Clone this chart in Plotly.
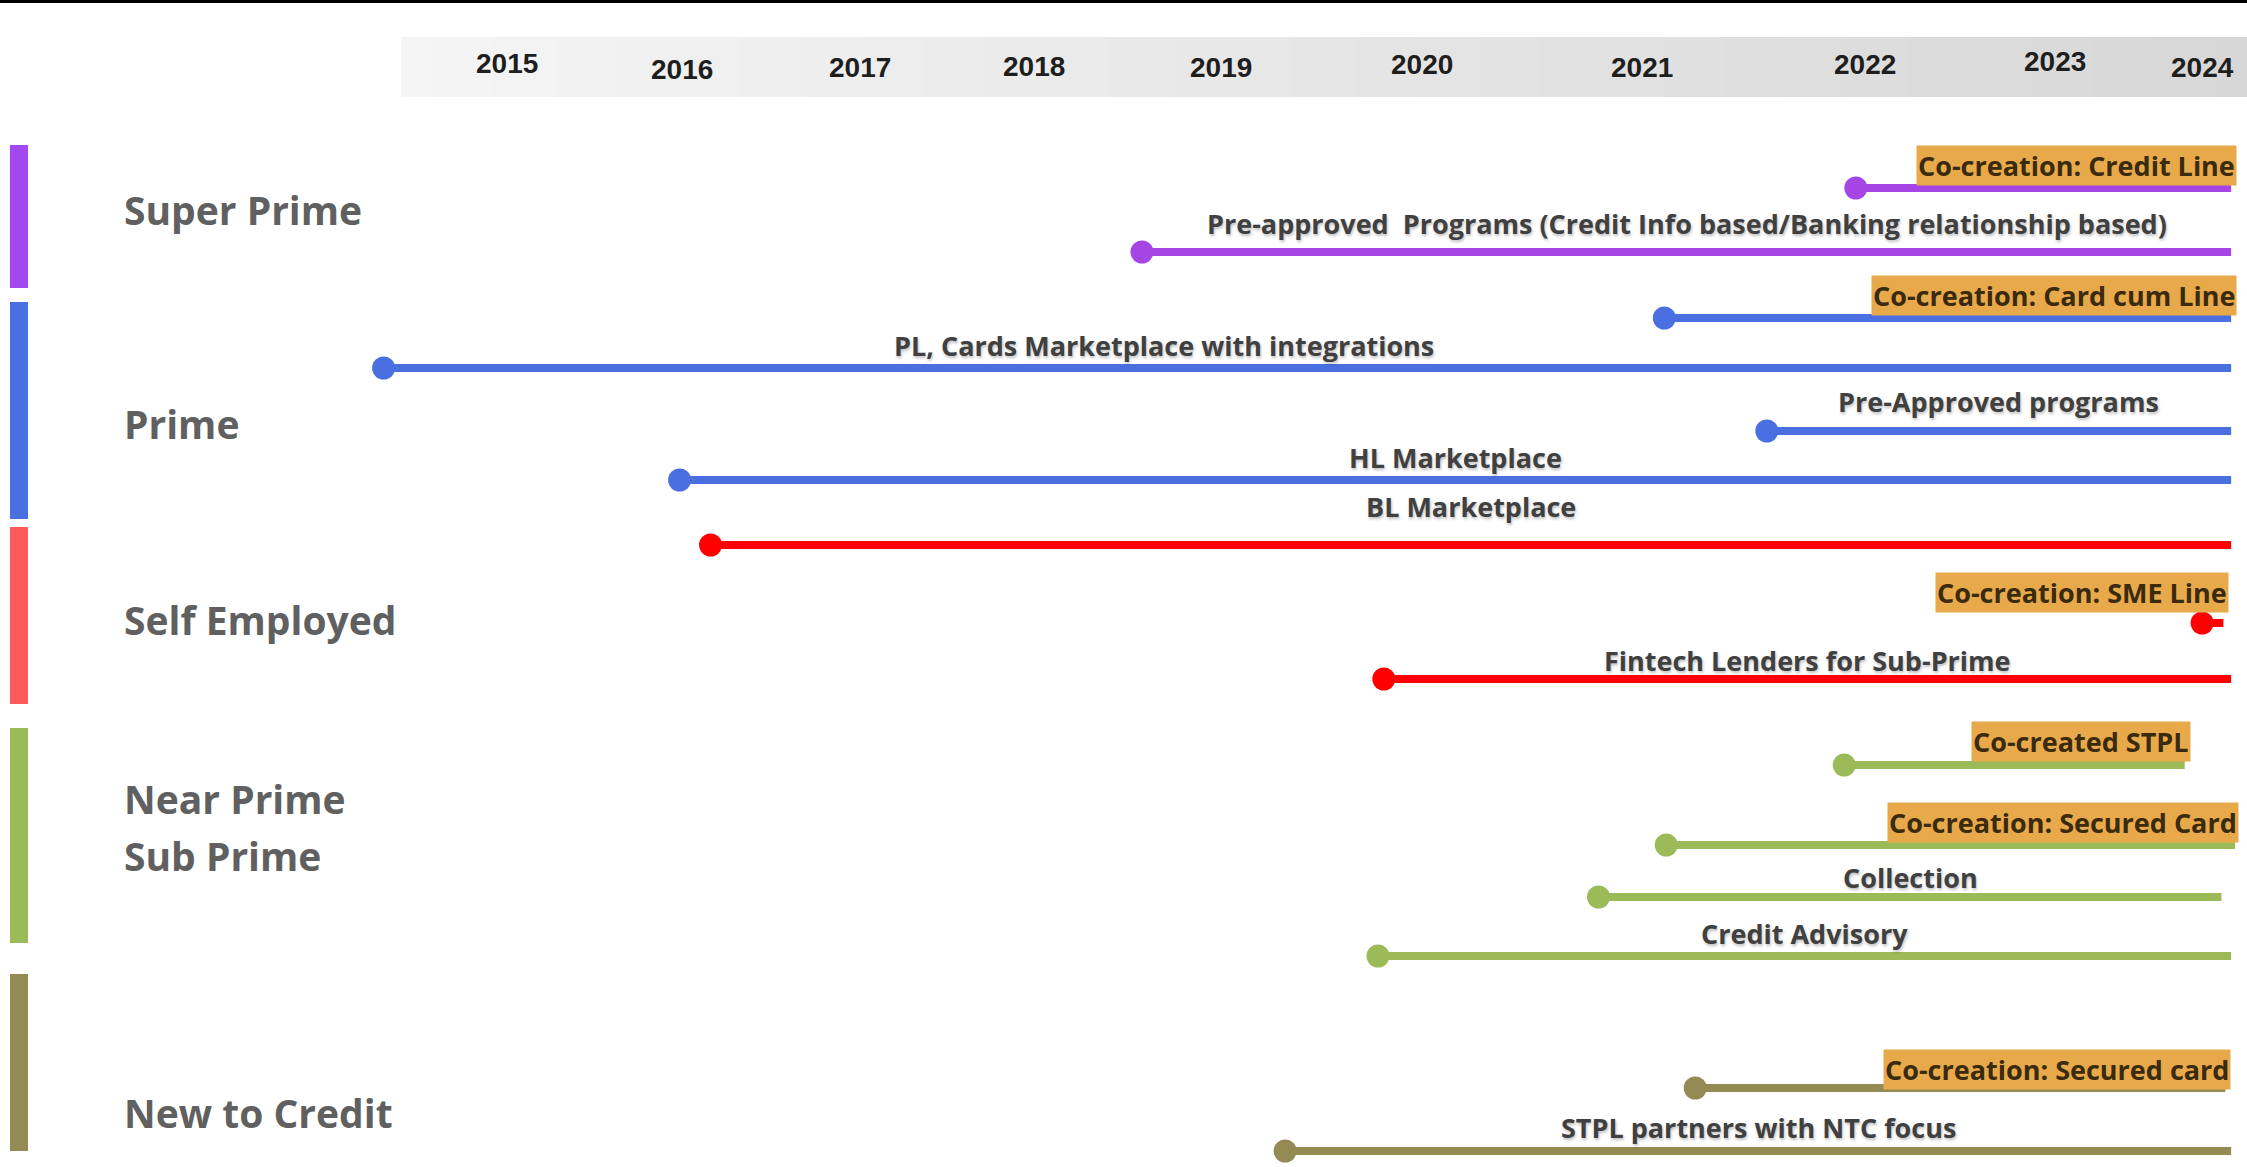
import plotly.graph_objects as go

# ---------------- data ----------------
years = [2015, 2016, 2017, 2018, 2019, 2020, 2021, 2022, 2023, 2024]

segments = ["Super Prime", "Prime", "Self Employed", "Near Prime<br>Sub Prime", "New to Credit"]

initiatives = [
    "Co-creation: Credit Line",
    "Pre-approved  Programs (Credit Info based/Banking relationship based)",
    "Co-creation: Card cum Line",
    "PL, Cards Marketplace with integrations",
    "Pre-Approved programs",
    "HL Marketplace",
    "BL Marketplace",
    "Co-creation: SME Line",
    "Fintech Lenders for Sub-Prime",
    "Co-created STPL",
    "Co-creation: Secured Card",
    "Collection",
    "Credit Advisory",
    "Co-creation: Secured card",
    "STPL partners with NTC focus",
]
initiative_segment = [0, 0, 1, 1, 1, 1, 2, 2, 2, 3, 3, 3, 3, 4, 4]
start_year = [2022.12, 2018.43, 2021.13, 2014.51, 2021.66, 2016.04, 2016.20, 2023.91,
              2019.68, 2022.06, 2021.14, 2020.79, 2019.65, 2021.29, 2019.17]
end_year = [2024.06, 2024.06, 2024.06, 2024.06, 2024.06, 2024.06, 2024.06, 2024.02,
            2024.06, 2023.82, 2024.08, 2024.01, 2024.06, 2024.03, 2024.06]
co_created = [True, False, True, False, False, False, False, True,
              False, True, True, False, False, True, False]

# ---------------- layout / style ----------------
W, H = 2247, 1167
bar_colors = ["#A347F0", "#4A6FE0", "#FF5A5A", "#9BBB59", "#948A54"]
line_colors = ["#A545E6", "#4A6FE0", "#FF0000", "#9BBB59", "#948A54"]

# lane of each initiative, in pixels from the top (y axis runs 0..H reversed)
lane_y = [188, 252, 318, 368, 431, 480, 545, 623, 679, 765, 845, 897, 956, 1088, 1151]
label_lift = [23, 29, 23, 23, 30, 23, 39, 31, 19, 24, 23, 20, 23, 19, 24]
label_xshift = [6, 0, 6, -143, 0, 0, 0, 6, 0, 6, 4, 0, 0, 6, 0]

segment_bands = [(145, 288), (302, 519), (527, 704), (728, 943), (974, 1151)]
segment_label_y = [209, 423, 619, 827, 1112]
segment_line_gap = 57

year_label_y = 67
year_xshift = [29, 10, -5, -25, -31, -24, 3, 32, 29, -17]
year_yshift = [4, -2, 0, 1, 0, 3, 0, 3, 6, 0]

font_main = "'Open Sans', Lato, sans-serif"
font_year = "'Liberation Sans Narrow', 'Arial Narrow', 'Liberation Sans', Arial, sans-serif"

fig = go.Figure()

# timelines
for i, name in enumerate(initiatives):
    col = line_colors[initiative_segment[i]]
    fig.add_trace(go.Scatter(
        x=[start_year[i], end_year[i]], y=[lane_y[i], lane_y[i]],
        mode="lines", line=dict(color=col, width=8),
        showlegend=False, hoverinfo="skip",
    ))
    fig.add_trace(go.Scatter(
        x=[start_year[i]], y=[lane_y[i]],
        mode="markers", marker=dict(size=23, color=col, opacity=1, line=dict(width=0)),
        showlegend=False, hoverinfo="skip",
    ))

annotations = []

# initiative labels
for i, name in enumerate(initiatives):
    if co_created[i]:
        annotations.append(dict(
            x=end_year[i], y=lane_y[i], xref="x", yref="y",
            text=name, showarrow=False, xanchor="right", yanchor="middle",
            xshift=label_xshift[i], yshift=label_lift[i],
            bgcolor="#E8A94A", borderpad=1,
            font=dict(family=font_main, size=27, color="#3A2A0E", weight=700),
        ))
    else:
        annotations.append(dict(
            x=(start_year[i] + end_year[i]) / 2, y=lane_y[i], xref="x", yref="y",
            text=name, showarrow=False, xanchor="center", yanchor="middle",
            xshift=label_xshift[i], yshift=label_lift[i],
            font=dict(family=font_main, size=27, color="#404040", weight=700,
                      shadow="1px 2px 3px rgba(0,0,0,0.25)"),
        ))

# segment labels (multi-line names placed line by line)
for k, seg in enumerate(segments):
    parts = seg.split("<br>")
    top = segment_label_y[k] - segment_line_gap * (len(parts) - 1) / 2
    for p, part in enumerate(parts):
        annotations.append(dict(
            x=122 / W, y=top + p * segment_line_gap, xref="paper", yref="y",
            text=part, showarrow=False, xanchor="left", yanchor="middle", align="left",
            font=dict(family=font_main, size=39, color="#606060", weight=700),
        ))

# year labels in the header band
for j, yr in enumerate(years):
    annotations.append(dict(
        x=yr, y=year_label_y, xref="x", yref="y",
        text=str(yr), showarrow=False, xanchor="center", yanchor="middle",
        xshift=year_xshift[j], yshift=year_yshift[j],
        font=dict(family=font_year, size=28, color="#1E1E1E", weight=700),
    ))

shapes = []
# top rule
shapes.append(dict(type="rect", xref="paper", yref="paper", x0=0, x1=1, y0=1 - 3 / H, y1=1,
                   fillcolor="black", line=dict(width=0), layer="below"))
# header band with horizontal gradient (drawn as thin strips)
n_strips = 60
x_start = 401 / W
for s in range(n_strips):
    t = s / (n_strips - 1)
    v = int(round(245 - (245 - 215) * t))
    shapes.append(dict(
        type="rect", xref="paper", yref="y",
        x0=x_start + (1 - x_start) * s / n_strips,
        x1=x_start + (1 - x_start) * (s + 1) / n_strips + 0.0005,
        y0=37, y1=97, fillcolor=f"rgb({v},{v},{v})", line=dict(width=0), layer="below",
    ))
# colored segment bars on the left
for k, (y0, y1) in enumerate(segment_bands):
    shapes.append(dict(type="rect", xref="paper", yref="y", x0=10 / W, x1=28 / W,
                       y0=y0, y1=y1, fillcolor=bar_colors[k], line=dict(width=0)))

fig.update_layout(
    width=W, height=H,
    margin=dict(l=0, r=0, t=0, b=0),
    paper_bgcolor="white", plot_bgcolor="white",
    xaxis=dict(range=[2012.527, 2024.142], visible=False, fixedrange=True),
    yaxis=dict(range=[H, 0], visible=False, fixedrange=True),
    annotations=annotations,
    shapes=shapes,
    showlegend=False,
)

fig.write_html("out.html", config={"displayModeBar": False},
               post_script="document.body.style.margin='0';")
